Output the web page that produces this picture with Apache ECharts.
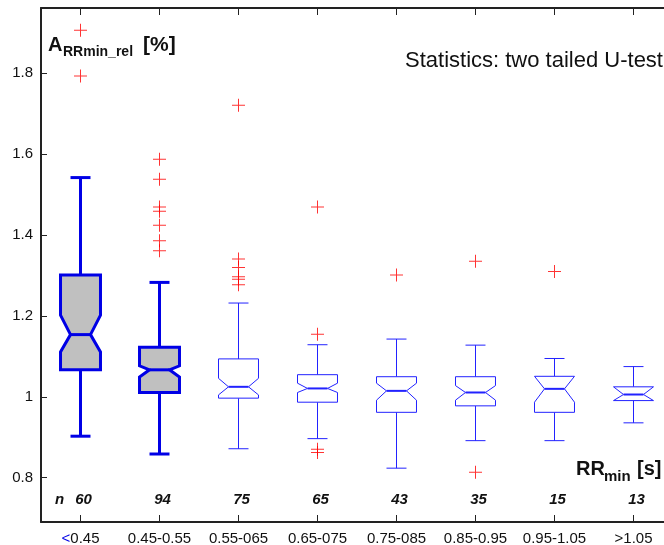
<!DOCTYPE html>
<html>
<head>
<meta charset="utf-8">
<script src="https://cdn.jsdelivr.net/npm/echarts@6/dist/echarts.min.js"></script>
<style>
	html, body { margin: 0; padding: 0; background: #fff; }
	#chart { width: 664px; height: 545px; }
</style>
</head>
<body>
<div id="chart"></div>
<script>
// 数据
const categories = ['<0.45', '0.45-0.55', '0.55-065', '0.65-075', '0.75-085', '0.85-0.95', '0.95-1.05', '>1.05']
const counts = [60, 94, 75, 65, 43, 35, 15, 13]
const whiskerLow = [0.902, 0.858, 0.871, 0.896, 0.823, 0.891, 0.891, 0.935]
const q1 = [1.066, 1.010, 0.996, 0.986, 0.961, 0.977, 0.961, 0.990]
const notchLow = [1.110, 1.048, 1.004, 1.010, 0.991, 0.991, 0.986, 0.990]
const medians = [1.153, 1.066, 1.024, 1.020, 1.014, 1.010, 1.019, 1.005]
const notchHigh = [1.201, 1.076, 1.045, 1.033, 1.033, 1.027, 1.050, 1.024]
const q3 = [1.300, 1.122, 1.093, 1.054, 1.049, 1.049, 1.050, 1.024]
const whiskerHigh = [1.541, 1.282, 1.231, 1.128, 1.142, 1.127, 1.094, 1.074]
const outliers = [
	[1.905, 1.792],
	[1.586, 1.537, 1.468, 1.458, 1.423, 1.385, 1.360],
	[1.720, 1.340, 1.319, 1.296, 1.290, 1.276],
	[1.468, 1.154, 0.870, 0.862],
	[1.300],
	[1.334, 0.813],
	[1.309],
	[]
]
const yTicks = [0.8, 1, 1.2, 1.4, 1.6, 1.8]

const font = '"Liberation Sans", Arial, sans-serif'
const axisColor = '#222'

const boxData = categories.map((c, i) => [i, whiskerLow[i], q1[i], notchLow[i], medians[i], notchHigh[i], q3[i], whiskerHigh[i]])
const outlierData = []
outliers.forEach((list, i) => list.forEach(v => outlierData.push([i, v])))

// 绘制带缺口的箱线
const renderBox = (params, api) => {
	const i = api.value(0)
	const half = api.size([1, 0])[0] * 0.253
	const x = api.coord([i, 1])[0]
	const yy = [1, 2, 3, 4, 5, 6, 7].map(k => api.coord([i, api.value(k)])[1])
	const [yLo, yQ1, yNlo, yMed, yNhi, yQ3, yHi] = yy
	const bold = i < 2
	const stroke = bold ? '#0000e6' : '#2222ff'
	const lw = bold ? 3 : 1
	const inset = half / 2
	const cap = half / 2
	const line = (x1, y1, x2, y2, w) => ({
		type: 'line',
		shape: { x1, y1, x2, y2 },
		style: { stroke, lineWidth: w || lw }
	})
	return {
		type: 'group',
		children: [
			line(x, yQ3, x, yHi),
			line(x - cap, yHi, x + cap, yHi),
			line(x, yQ1, x, yLo),
			line(x - cap, yLo, x + cap, yLo),
			{
				type: 'polygon',
				shape: {
					points: [
						[x - half, yQ3], [x + half, yQ3], [x + half, yNhi], [x + half - inset, yMed],
						[x + half, yNlo], [x + half, yQ1], [x - half, yQ1], [x - half, yNlo],
						[x - half + inset, yMed], [x - half, yNhi]
					]
				},
				style: { fill: bold ? '#c0c0c0' : '#fff', stroke, lineWidth: lw }
			},
			line(x - half + inset, yMed, x + half - inset, yMed, bold ? 3 : 2)
		]
	}
}

const renderCount = (params, api) => {
	const p = api.coord([api.value(0), 0.745])
	return {
		type: 'text',
		x: p[0] + 3,
		y: p[1],
		style: {
			text: String(api.value(1)),
			font: 'italic bold 15px ' + font,
			align: 'center',
			verticalAlign: 'middle',
			fill: '#111'
		}
	}
}

// y 轴刻度线(内侧)
const renderYTick = (params, api) => {
	const p = api.coord([0, api.value(1)])
	const left = params.coordSys.x
	return {
		type: 'line',
		shape: { x1: left, y1: Math.round(p[1]) + 0.5, x2: left + 6, y2: Math.round(p[1]) + 0.5 },
		style: { stroke: axisColor, lineWidth: 1 }
	}
}

const myChart = echarts.init(document.getElementById('chart'))
const option = {
	animation: false,
	grid: { left: 41, right: -9, top: 8, bottom: 23, containLabel: false, outerBoundsMode: 'none' },
	xAxis: [
		{
			type: 'category',
			data: categories,
			position: 'bottom',
			axisLine: { show: true, onZero: false, lineStyle: { color: axisColor, width: 2 } },
			axisTick: { show: true, alignWithLabel: true, inside: true, length: 7, lineStyle: { color: axisColor, width: 1 } },
			axisLabel: {
				interval: 0,
				margin: 9,
				fontSize: 15,
				fontFamily: font,
				color: '#111',
				formatter: v => v.charAt(0) === '<' ? '{b|<}' + v.slice(1) : v,
				rich: { b: { color: '#0000e6', fontSize: 15, fontFamily: font } }
			},
			splitLine: { show: false }
		},
		{
			type: 'category',
			data: categories,
			position: 'top',
			axisLine: { show: true, onZero: false, lineStyle: { color: axisColor, width: 2 } },
			axisTick: { show: true, alignWithLabel: true, inside: true, length: 7, lineStyle: { color: axisColor, width: 1 } },
			axisLabel: { show: false },
			splitLine: { show: false }
		}
	],
	yAxis: {
		type: 'value',
		min: 0.69,
		max: 1.96,
		axisLine: { show: true, lineStyle: { color: axisColor, width: 2 } },
		axisTick: { show: false },
		axisLabel: { customValues: yTicks, margin: 8, fontSize: 15, fontFamily: font, color: '#111' },
		splitLine: { show: false }
	},
	graphic: [
		{ type: 'text', x: 48, y: 45, style: { text: 'A', font: 'bold 20px ' + font, verticalAlign: 'middle', fill: '#111' } },
		{ type: 'text', x: 63, y: 52.5, style: { text: 'RRmin_rel', font: 'bold 14px ' + font, verticalAlign: 'middle', fill: '#111' } },
		{ type: 'text', x: 143, y: 45, style: { text: '[%]', font: 'bold 21px ' + font, verticalAlign: 'middle', fill: '#111' } },
		{ type: 'text', x: 405, y: 61, style: { text: 'Statistics: two tailed U-test', font: '22px ' + font, verticalAlign: 'middle', fill: '#111' } },
		{ type: 'text', x: 576, y: 469, style: { text: 'RR', font: 'bold 20px ' + font, verticalAlign: 'middle', fill: '#111' } },
		{ type: 'text', x: 604, y: 476.5, style: { text: 'min', font: 'bold 15px ' + font, verticalAlign: 'middle', fill: '#111' } },
		{ type: 'text', x: 637, y: 469, style: { text: '[s]', font: 'bold 20px ' + font, verticalAlign: 'middle', fill: '#111' } },
		{ type: 'text', x: 55, y: 500, style: { text: 'n', font: 'italic bold 15px ' + font, verticalAlign: 'middle', fill: '#111' } }
	],
	series: [
		{
			type: 'custom',
			name: 'yticks',
			data: yTicks.map(v => [0, v]),
			renderItem: renderYTick,
			encode: { x: 0, y: 1 },
			silent: true,
			z: 5
		},
		{
			type: 'custom',
			name: 'box',
			data: boxData,
			renderItem: renderBox,
			encode: { x: 0, y: [1, 7] },
			z: 2
		},
		{
			type: 'scatter',
			name: 'outliers',
			data: outlierData,
			symbol: 'path://M0,6H13V7H0Z M6,0H7V13H6Z',
			symbolSize: 13,
			itemStyle: { color: '#ff0000' },
			z: 3
		},
		{
			type: 'custom',
			name: 'n',
			data: counts.map((c, i) => [i, c]),
			renderItem: renderCount,
			encode: { x: 0 },
			z: 4
		}
	]
}

option && myChart.setOption(option)
</script>
</body>
</html>
